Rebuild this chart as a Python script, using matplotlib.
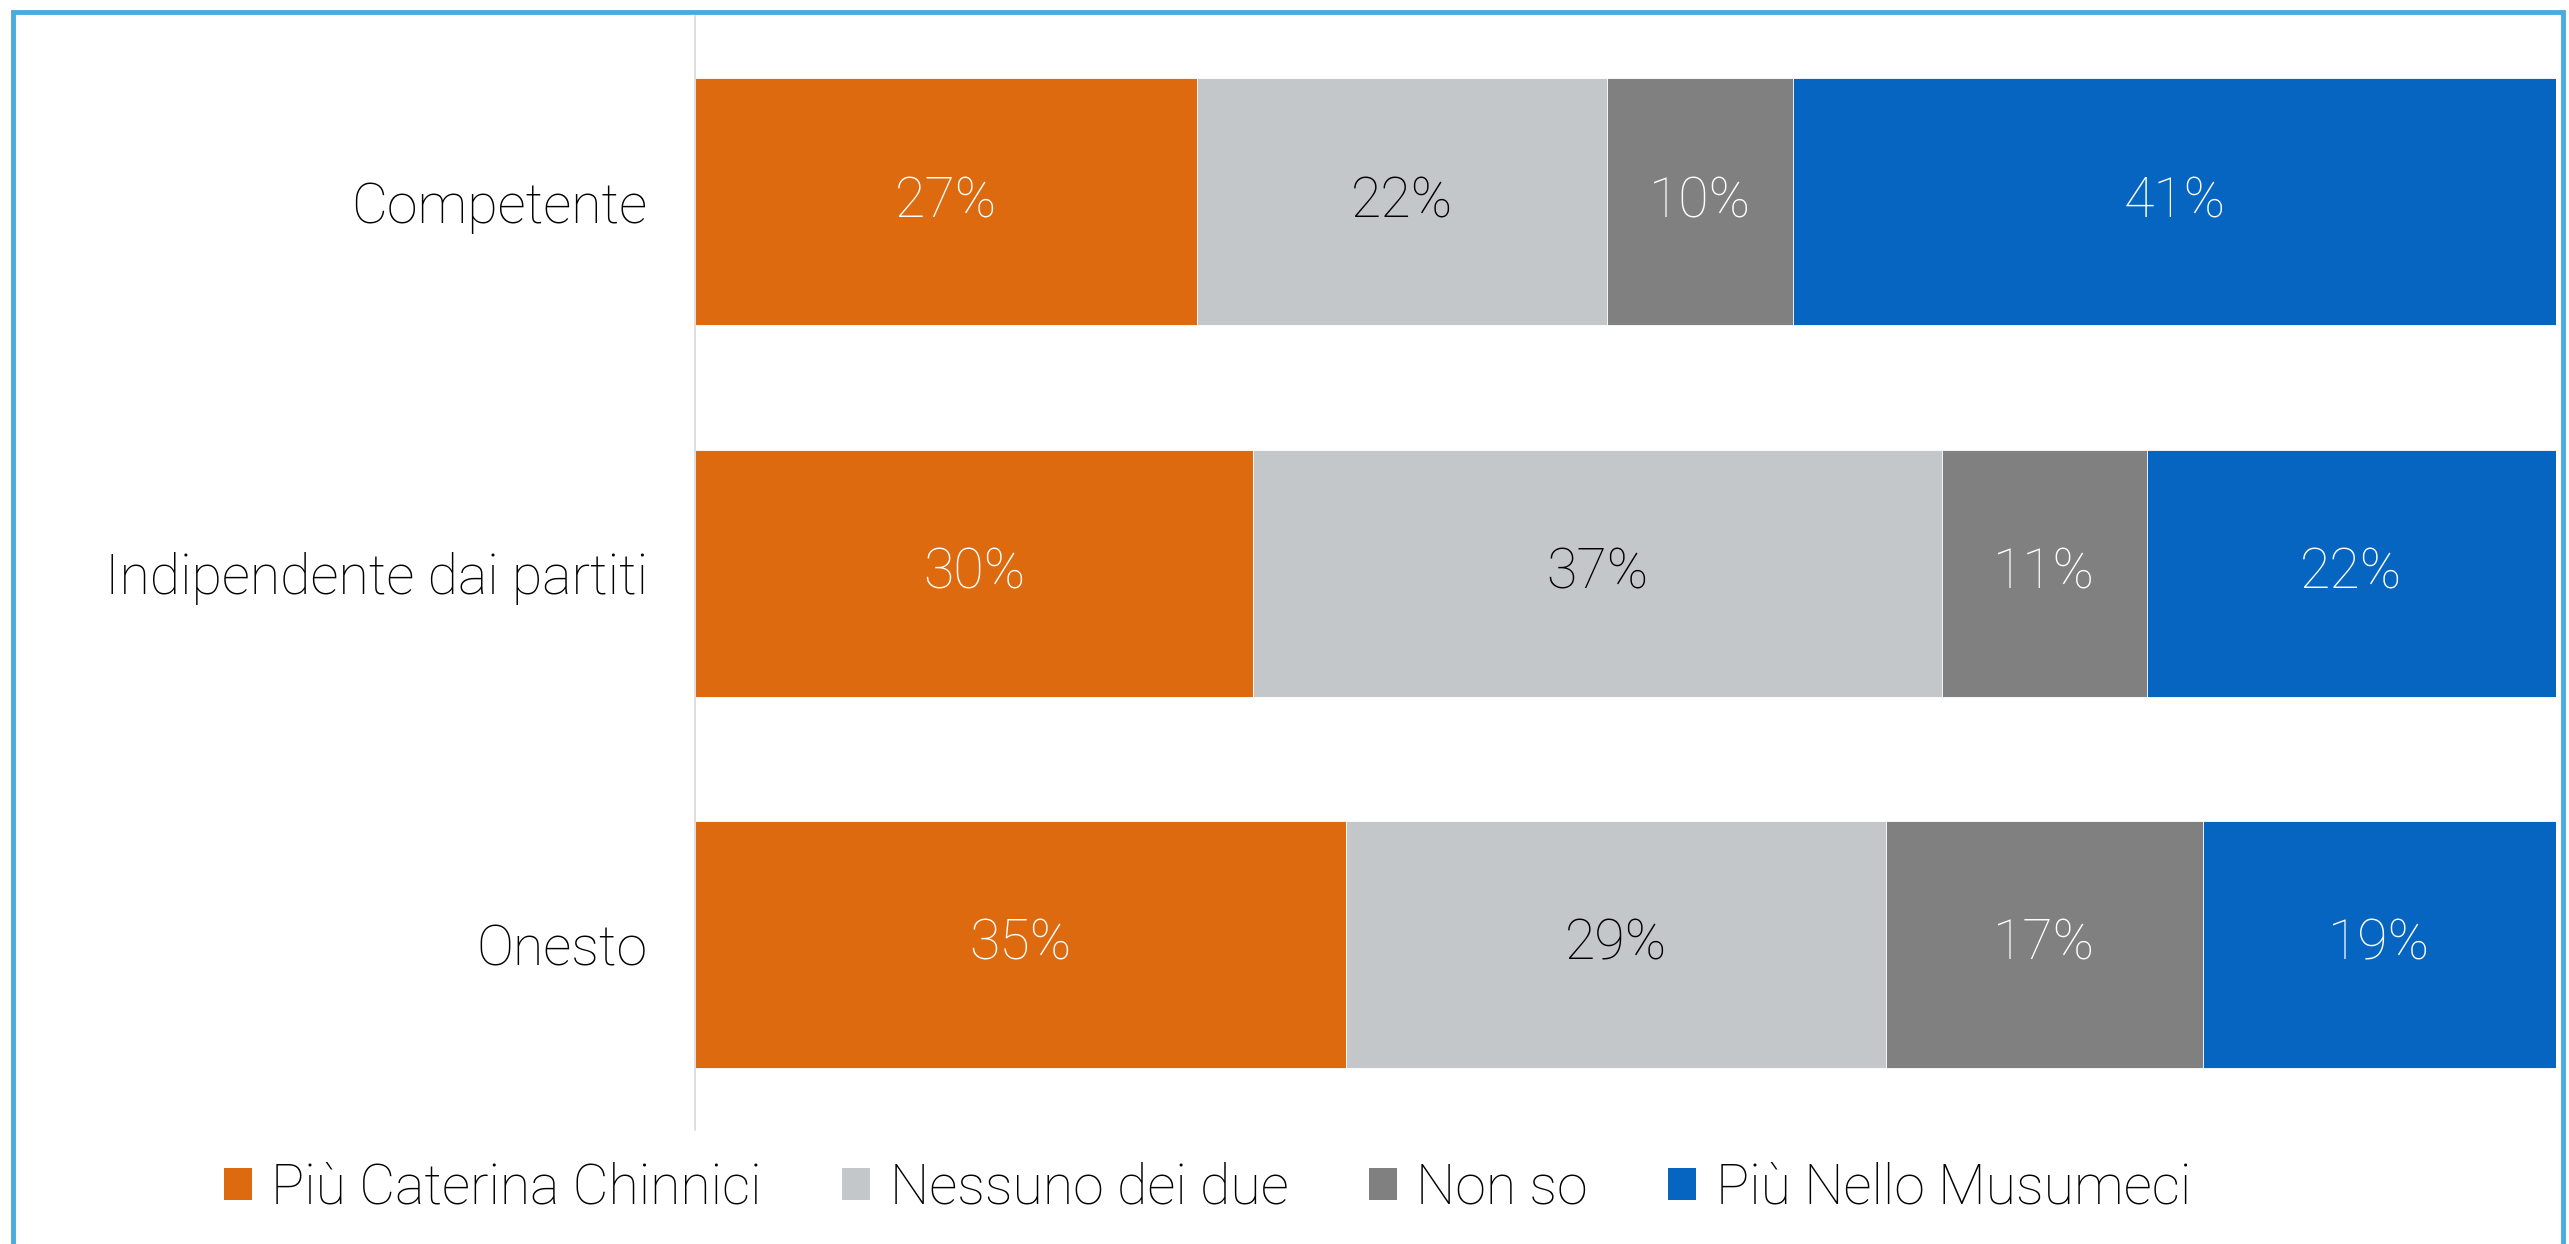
import matplotlib.pyplot as plt
from matplotlib.patches import Rectangle, Patch

plt.rcParams['font.family'] = ['Roboto', 'DejaVu Sans']
plt.rcParams['font.weight'] = 'light'

# ------------------------
# Data
# ------------------------
categories = ["Competente", "Indipendente dai partiti", "Onesto"]
series_names = ["Più Caterina Chinnici", "Nessuno dei due", "Non so", "Più Nello Musumeci"]
chinnici = [27, 30, 35]
nessuno = [22, 37, 29]
non_so = [10, 11, 17]
musumeci = [41, 22, 19]

colors = ["#DD6A0F", "#C4C7CA", "#808080", "#0565C0"]
label_colors = ["white", "black", "white", "white"]

fig = plt.figure(figsize=(25.69, 12.44), dpi=100)
ax = fig.add_axes([0.2705, 0.0916, 0.7245, 0.8954])

y = list(range(len(categories)))
left = [0, 0, 0]
for vals, col, lcol, name in zip([chinnici, nessuno, non_so, musumeci], colors, label_colors, series_names):
    bars = ax.barh(y, vals, left=left, height=0.665, color=col, edgecolor="white",
                   linewidth=0.6, label=name)
    ax.bar_label(bars, labels=[f"{v}%" for v in vals], label_type="center",
                 color=lcol, fontsize=40, fontweight="light")
    left = [a + b for a, b in zip(left, vals)]

ax.set_xlim(0, 100)
ax.set_ylim(2.5, -0.5)
ax.set_yticks(y)
ax.set_yticklabels(categories, fontsize=40, fontweight="light", color="black")
ax.tick_params(axis="y", length=0, pad=34)
ax.xaxis.set_visible(False)
for s in ["top", "right", "bottom"]:
    ax.spines[s].set_visible(False)
ax.spines["left"].set_color("#D9D9D9")
ax.spines["left"].set_linewidth(1.2)

handles = [Patch(facecolor=c) for c in colors]
fig.legend(handles, series_names, loc="center", bbox_to_anchor=(0.47, 0.045), ncol=4,
           frameon=False, prop={"size": 40, "weight": "light"}, handlelength=0.5,
           handleheight=0.5, handletextpad=0.35, columnspacing=1.45)

# light blue frame around the picture
fig.patches.append(Rectangle((13 / 2569, -0.02), 2550 / 2569, 1.02 - 12 / 1244,
                             transform=fig.transFigure, fill=False,
                             edgecolor="#4AACDD", linewidth=3.5))

fig.savefig("out.png", dpi=100)
